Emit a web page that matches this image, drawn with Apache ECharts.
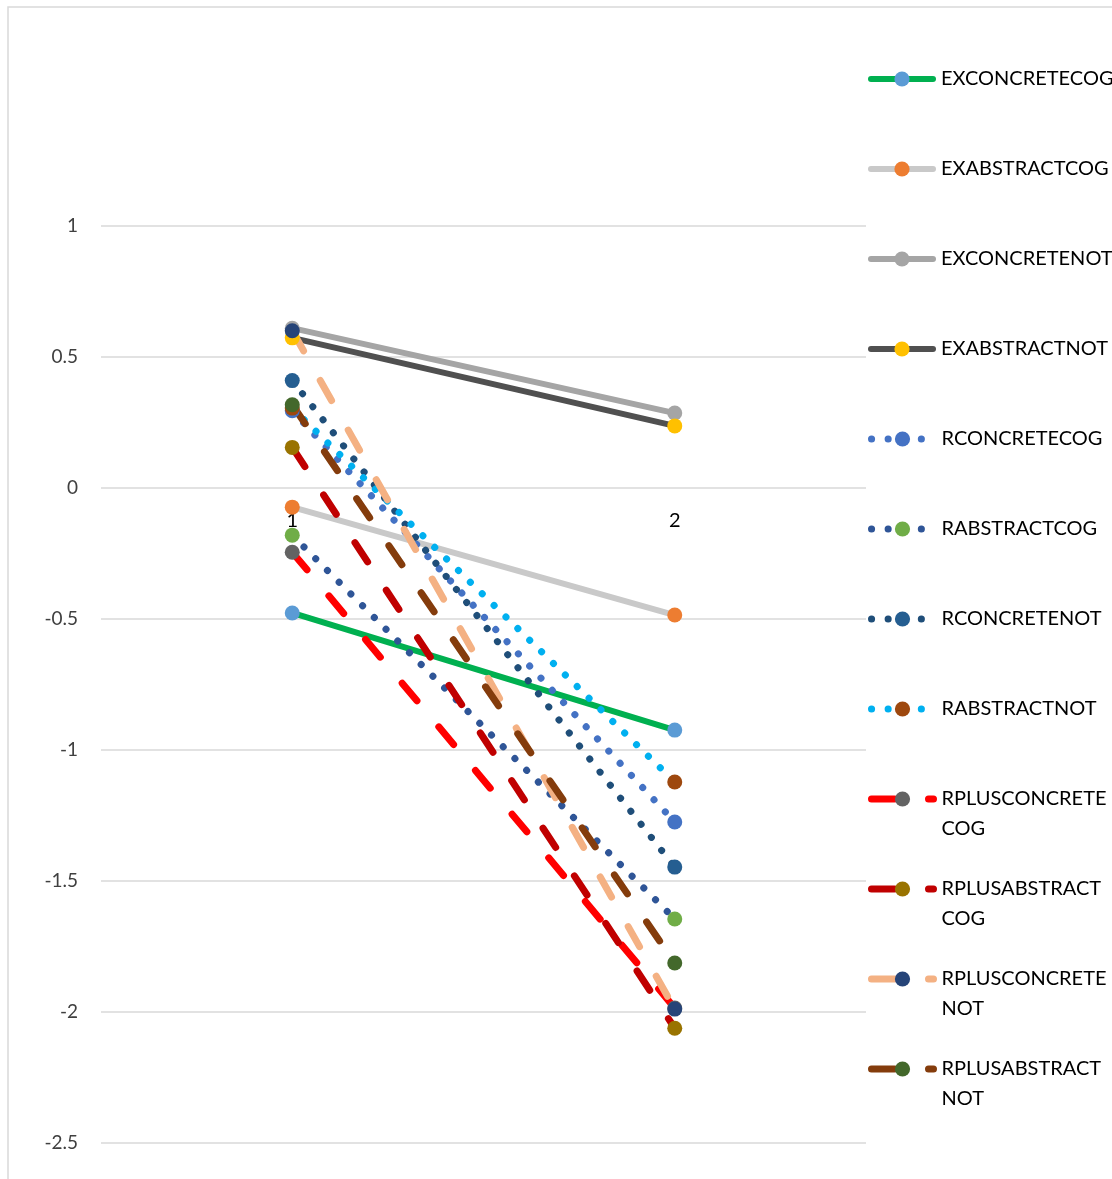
<!DOCTYPE html>
<html>
<head>
<meta charset="utf-8">
<script src="https://cdn.jsdelivr.net/npm/echarts@6/dist/echarts.min.js"></script>
<style>html,body{margin:0;padding:0;background:#fff;}#c{width:1112px;height:1179px;}</style>
</head>
<body>
<div id="c"></div>
<script>
const categories = ['1', '2'];
const yTicks = [-2.5, -2, -1.5, -1, -0.5, 0, 0.5, 1];

const seriesNames = ['EXCONCRETECOG', 'EXABSTRACTCOG', 'EXCONCRETENOT', 'EXABSTRACTNOT',
  'RCONCRETECOG', 'RABSTRACTCOG', 'RCONCRETENOT', 'RABSTRACTNOT',
  'RPLUSCONCRETECOG', 'RPLUSABSTRACTCOG', 'RPLUSCONCRETENOT', 'RPLUSABSTRACTNOT'];
const legendLines = [['EXCONCRETECOG'], ['EXABSTRACTCOG'], ['EXCONCRETENOT'], ['EXABSTRACTNOT'],
  ['RCONCRETECOG'], ['RABSTRACTCOG'], ['RCONCRETENOT'], ['RABSTRACTNOT'],
  ['RPLUSCONCRETE', 'COG'], ['RPLUSABSTRACT', 'COG'], ['RPLUSCONCRETE', 'NOT'], ['RPLUSABSTRACT', 'NOT']];

const exConcreteCog = [-0.477, -0.924];
const exAbstractCog = [-0.073, -0.485];
const exConcreteNot = [0.61, 0.286];
const exAbstractNot = [0.573, 0.237];
const rConcreteCog = [0.295, -1.275];
const rAbstractCog = [-0.18, -1.645];
const rConcreteNot = [0.41, -1.447];
const rAbstractNot = [0.305, -1.122];
const rplusConcreteCog = [-0.245, -1.985];
const rplusAbstractCog = [0.155, -2.062];
const rplusConcreteNot = [0.60, -1.989];
const rplusAbstractNot = [0.318, -1.813];

const values = [exConcreteCog, exAbstractCog, exConcreteNot, exAbstractNot,
  rConcreteCog, rAbstractCog, rConcreteNot, rAbstractNot,
  rplusConcreteCog, rplusAbstractCog, rplusConcreteNot, rplusAbstractNot];

const lineColors = ['#00B050', '#C9C9C9', '#A5A5A5', '#505050',
  '#4472C4', '#2F5597', '#1F4E79', '#00B0F0',
  '#FF0000', '#C00000', '#F4B183', '#843C0C'];
const markerColors = ['#5B9BD5', '#ED7D31', '#A5A5A5', '#FFC000',
  '#4472C4', '#70AD47', '#255E91', '#9E480E',
  '#636363', '#997300', '#264478', '#43682B'];
const styles = ['solid', 'solid', 'solid', 'solid', 'dot', 'dot', 'dot', 'dot', 'dash', 'dash', 'dash', 'dash'];

const FONT = 'Lato, "Open Sans", sans-serif';

function lineStyleFor(i) {
  const s = styles[i];
  if (s === 'solid') return { color: lineColors[i], width: 6, type: 'solid', cap: 'round' };
  if (s === 'dot') return { color: lineColors[i], width: 7, type: [0.1, 16.5], cap: 'round' };
  return { color: lineColors[i], width: 7, type: [23, 34], cap: 'round' };
}

const series = seriesNames.map((n, i) => ({
  name: n,
  type: 'line',
  data: values[i],
  symbol: 'circle',
  symbolSize: 15,
  lineStyle: lineStyleFor(i),
  itemStyle: { color: markerColors[i], borderWidth: 0 },
  emphasis: { disabled: true },
  animation: false
}));

const legends = seriesNames.map((n, i) => {
  const lines = legendLines[i];
  const two = lines.length > 1;
  const center = 79 + 90 * i;
  // for two-line labels, an empty leading line keeps the first line level with the icon
  const label = two ? '\n' + lines.join('\n') : lines[0];
  return {
    data: [n],
    left: 868,
    top: two ? center - 45 : center - 15,
    padding: 0,
    itemWidth: 62,
    itemHeight: 19,
    itemGap: 0,
    selectedMode: false,
    formatter: () => label,
    lineStyle: lineStyleFor(i),
    itemStyle: { color: markerColors[i], borderWidth: 0 },
    textStyle: {
      fontFamily: FONT,
      fontSize: 20,
      color: '#000',
      lineHeight: 30,
      padding: [0, 0, 0, 3]
    }
  };
});

const chart = echarts.init(document.getElementById('c'), null, { renderer: 'canvas' });
chart.setOption({
  backgroundColor: '#fff',
  animation: false,
  graphic: [{
    type: 'rect',
    shape: { x: 8, y: 7, width: 1300, height: 1300 },
    style: { fill: 'none', stroke: '#D9D9D9', lineWidth: 1.5 },
    z: 0
  }],
  grid: { left: 101, right: 246, top: 226, bottom: 36, containLabel: false },
  xAxis: {
    type: 'category',
    data: categories,
    boundaryGap: true,
    axisLine: { show: false, onZero: false },
    axisTick: { show: false },
    axisLabel: { fontFamily: FONT, fontSize: 20, color: '#000', margin: 20 },
    splitLine: { show: false }
  },
  yAxis: {
    type: 'value',
    min: yTicks[0],
    max: yTicks[yTicks.length - 1],
    interval: 0.5,
    axisLine: { show: false },
    axisTick: { show: false },
    axisLabel: { fontFamily: FONT, fontSize: 19, color: '#404040', margin: 23 },
    splitLine: { lineStyle: { color: '#D9D9D9', width: 1.5 } }
  },
  legend: legends,
  series: series
});

// place the category axis on the value axis' zero line, measured through the y scale
const zeroY = chart.convertToPixel({ yAxisIndex: 0 }, 0);
const bottomY = chart.convertToPixel({ yAxisIndex: 0 }, yTicks[0]);
chart.setOption({ xAxis: { offset: -(bottomY - zeroY) } });
</script>
</body>
</html>
